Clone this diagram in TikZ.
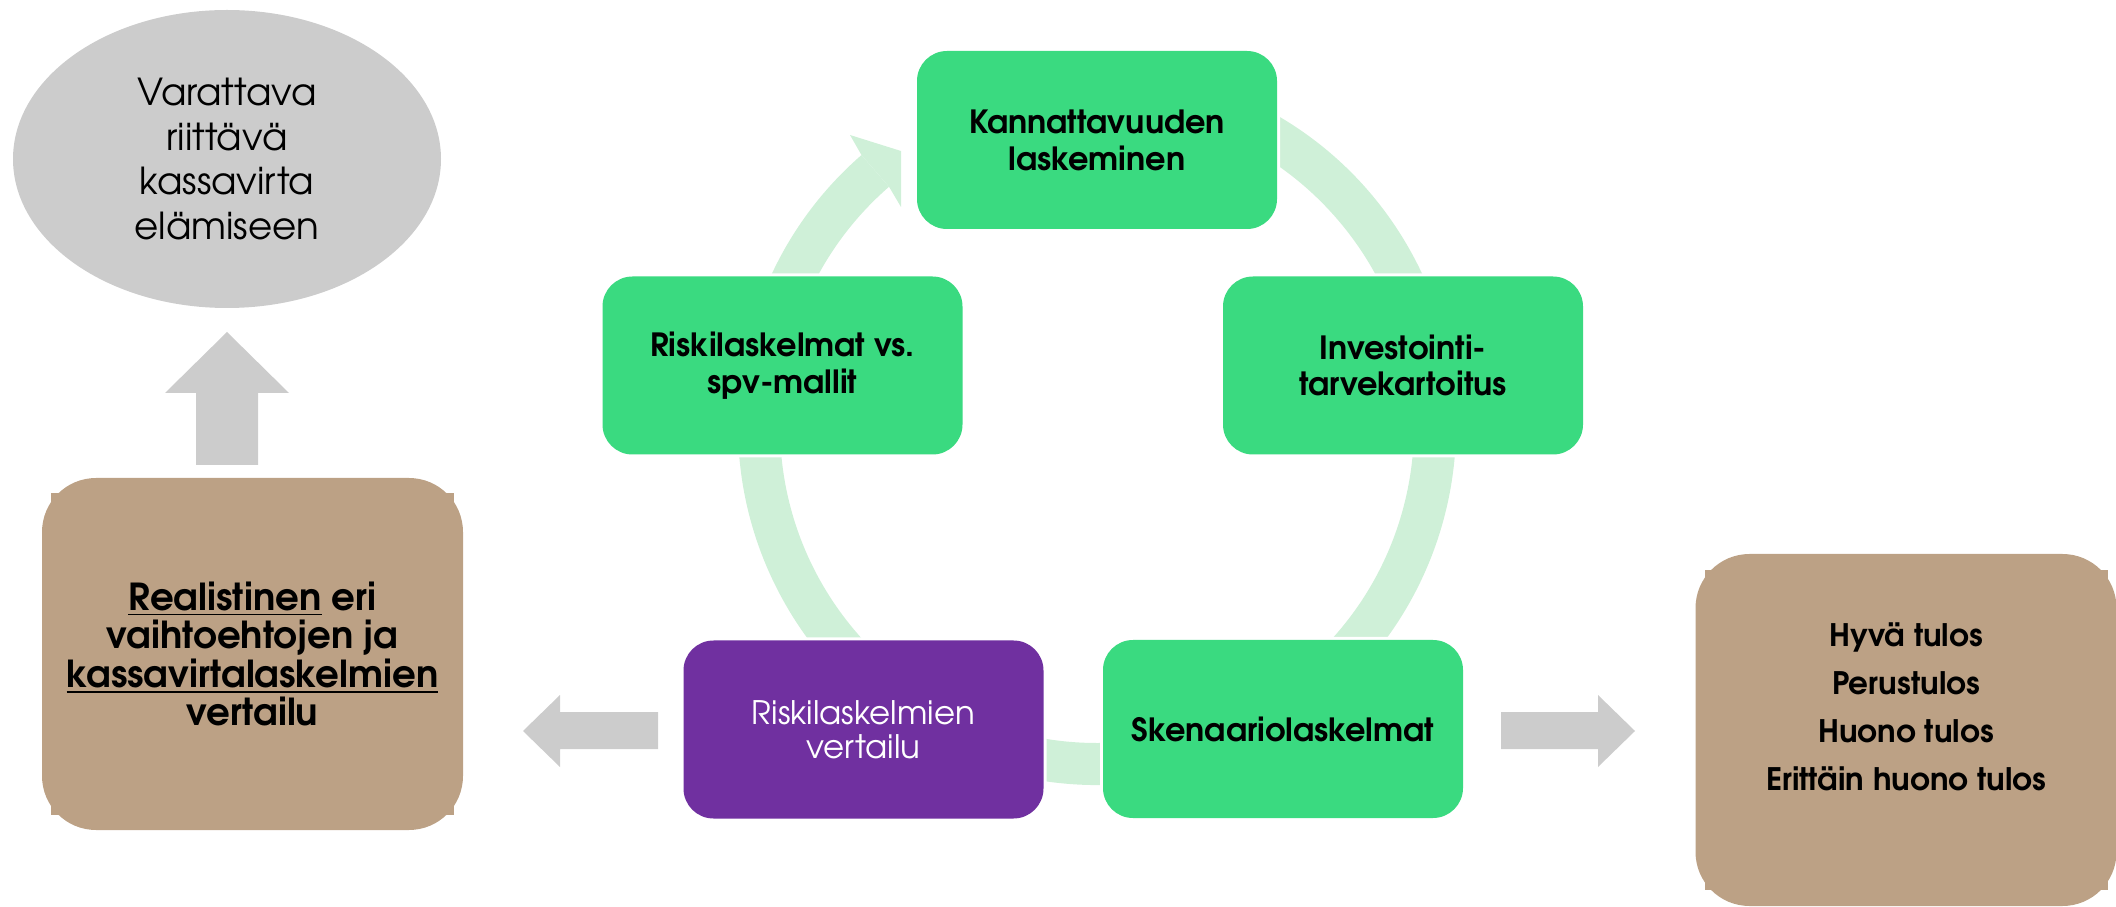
\documentclass[tikz,border=0pt]{standalone}
\usepackage{fontspec}
\setmainfont{texgyreadventor}[Extension=.otf, UprightFont=*-regular, BoldFont=*-bold, ItalicFont=*-italic, BoldItalicFont=*-bolditalic]
\newcommand{\myul}[1]{\setbox0\hbox{#1}\rlap{\rule[-2.6pt]{\wd0}{0.85pt}}\box0\relax}
\usetikzlibrary{calc,shapes.geometric}
\definecolor{gboxc}{RGB}{58,218,128}
\definecolor{ringc}{RGB}{207,240,216}
\definecolor{purpc}{RGB}{112,48,160}
\definecolor{brownc}{RGB}{188,161,133}
\definecolor{grayc}{RGB}{204,204,204}
\tikzset{
  cbox/.style={rounded corners=15pt, minimum width=180pt, minimum height=89pt,
    inner sep=0pt, align=center, preaction={draw=white, line width=3pt}},
  gtext/.style={font=\fontsize{16}{18.4}\selectfont\bfseries},
  bbox/.style={rounded corners=27pt, fill=brownc, minimum width=210.5pt, minimum height=176pt, inner sep=0pt},
  blockarrow/.style={fill=grayc},
}
\begin{document}
\begin{tikzpicture}[x=0.5pt,y=0.5pt]
\useasboundingbox (0,0) rectangle (2116,906);
\coordinate (C) at (1097,480);
% cycle ring
\fill[ringc] ($(C)+(118:359)$) arc[start angle=118,end angle=-229,radius=359]
  -- ($(C)+(131:317)$) arc[start angle=-229,end angle=118,radius=317] -- cycle;
\fill[ringc] (850,771) -- (901,755) -- (901,699) -- ($(C)+(131:317)$) -- ($(C)+(131:359)$) -- cycle;
% cycle boxes
\node[cbox, gtext, fill=gboxc] (K) at (1097,766) {Kannattavuuden\\laskeminen};
\node[cbox, gtext, fill=gboxc] (I) at (1403,540.5) {Investointi-\\tarvekartoitus};
\node[cbox, gtext, fill=gboxc] (S) at (1283,177) {Skenaariolaskelmat};
\node[cbox, fill=purpc, text=white, font=\fontsize{16.2}{17}\selectfont] (P) at (863.5,176.5) {Riskilaskelmien\\vertailu};
\node[cbox, gtext, fill=gboxc] (R) at (782.5,540.5) {Riskilaskelmat vs.\\spv-mallit};
% left brown box
\fill[brownc] (51,91) rectangle (454,413);
\node[bbox, align=center, font=\fontsize{18.6}{19.3}\selectfont\bfseries] (L) at (252.5,252)
  {\myul{Realistinen} eri\\vaihtoehtojen ja\\\myul{kassavirtalaskelmien}\\vertailu};
% right brown box
\fill[brownc] (1705,16) rectangle (2108,336);
\node[bbox] (B) at (1906,176) {};
\node[align=center, font=\fontsize{15.5}{24}\selectfont\bfseries] (Btxt) at (1906,199)
  {Hyvä tulos\\Perustulos\\Huono tulos\\Erittäin huono tulos};
% ellipse
\node[ellipse, fill=grayc, minimum width=214pt, minimum height=149pt, inner sep=0pt,
  align=center, font=\fontsize{18.6}{22.2}\selectfont] (E) at (227,747)
  {Varattava\\riittävä\\kassavirta\\elämiseen};
% block arrows
\fill[blockarrow] (196,441) -- (258,441) -- (258,513) -- (289,513) -- (227,574) -- (165,513) -- (196,513) -- cycle;
\fill[blockarrow] (658,157) -- (658,194) -- (560,194) -- (560,211) -- (523,175) -- (560,139) -- (560,157) -- cycle;
\fill[blockarrow] (1501,157) -- (1501,194) -- (1598,194) -- (1598,211) -- (1635,175) -- (1598,139) -- (1598,157) -- cycle;
\end{tikzpicture}
\end{document}
